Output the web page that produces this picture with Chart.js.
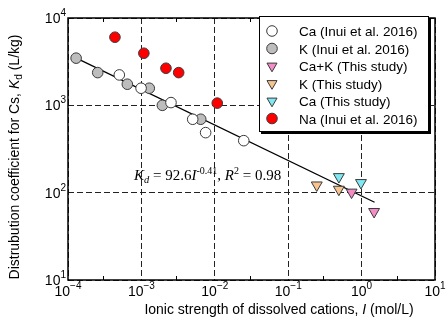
<!DOCTYPE html>
<html><head><meta charset="utf-8">
<script src="https://cdn.jsdelivr.net/npm/chart.js@4/dist/chart.umd.min.js"></script>
<style>html,body{margin:0;padding:0;background:#fff;}canvas{display:block;}</style>
</head><body>
<canvas id="c" width="447" height="331"></canvas>
<script>
// ---- data ----
const caInuiI  = [5.0e-4, 9.9e-4, 2.53e-3, 5.0e-3, 7.5e-3, 2.48e-2];
const caInuiKd = [2230, 1570, 1075, 693, 487, 394];
const kInuiI   = [1.29e-4, 2.54e-4, 6.43e-4, 1.28e-3, 1.93e-3, 6.43e-3];
const kInuiKd  = [3470, 2370, 1745, 1570, 1000, 693];
const cakI     = [0.73, 1.48];
const cakKd    = [101, 60.6];
const kThisI   = [0.245, 0.49];
const kThisKd  = [122, 109];
const caThisI  = [0.49, 0.98];
const caThisKd = [152, 130];
const naInuiI  = [4.36e-4, 1.08e-3, 2.16e-3, 3.22e-3, 1.08e-2];
const naInuiKd = [6030, 3950, 2660, 2370, 1060];
const fitI     = [1.3e-4, 1.5];
const fitKd    = [3470, 77.6];
const xTickExp = [-4, -3, -2, -1, 0, 1];
const yTickExp = [1, 2, 3, 4];
const xMinorTicks = [3e-4, 3e-3, 3e-2, 3e-1, 3];

const pts = (xs, ys) => xs.map((x, i) => ({x, y: ys[i]}));
const EDGE = '#3a3a3a';
function circleDs(label, xs, ys, fill) {
  return {label, data: pts(xs, ys), pointStyle: 'circle', pointRadius: 5.3,
    backgroundColor: fill, borderColor: EDGE, borderWidth: 1, showLine: false};
}
function triDs(label, xs, ys, fill) {
  return {label, data: pts(xs, ys), pointStyle: 'triangle', rotation: 180, pointRadius: 6.3,
    backgroundColor: fill, borderColor: EDGE, borderWidth: 1, showLine: false};
}
const datasets = [
  circleDs('Ca (Inui et al. 2016)', caInuiI, caInuiKd, '#ffffff'),
  circleDs('K (Inui et al. 2016)', kInuiI, kInuiKd, '#bdbdbd'),
  triDs('Ca+K (This study)', cakI, cakKd, '#f48cc8'),
  triDs('K (This study)', kThisI, kThisKd, '#f7c38e'),
  triDs('Ca (This study)', caThisI, caThisKd, '#80e8f2'),
  circleDs('Na (Inui et al. 2016)', naInuiI, naInuiKd, '#ff0000'),
  {label: 'fit', data: pts(fitI, fitKd), showLine: true, pointRadius: 0, borderColor: '#000',
   borderWidth: 1.3, order: 10, fill: false}
];

const SANS = '"Liberation Sans", Arial, sans-serif';
const SERIF = '"Liberation Serif", "Times New Roman", serif';

function richWidth(ctx, segs) {
  let w = 0;
  for (const s of segs) { ctx.font = (s.italic ? 'italic ' : '') + s.size + 'px ' + s.family; w += ctx.measureText(s.t).width; }
  return w;
}
function drawRich(ctx, segs, x, y) {
  for (const s of segs) {
    ctx.font = (s.italic ? 'italic ' : '') + s.size + 'px ' + s.family;
    ctx.fillText(s.t, x, y + (s.dy || 0));
    x += ctx.measureText(s.t).width;
  }
  return x;
}
function powSegs(exp) {
  const e = exp < 0 ? '\u2212' + (-exp) : String(exp);
  return [{t: '10', size: 14, family: SANS}, {t: e, size: 10, family: SANS, dy: -7}];
}

const decor = {
  id: 'decor',
  afterDatasetsDraw(chart) {
    const {ctx, chartArea: a, scales: {x, y}} = chart;
    ctx.save();
    ctx.fillStyle = '#000'; ctx.strokeStyle = '#000'; ctx.textBaseline = 'alphabetic'; ctx.textAlign = 'left';
    ctx.lineWidth = 1.5;
    ctx.strokeRect(a.left, a.top, a.right - a.left, a.bottom - a.top);
    ctx.lineWidth = 1;
    ctx.beginPath();
    for (const v of xMinorTicks) {
      const px = Math.round(x.getPixelForValue(v)) + 0.5;
      ctx.moveTo(px, a.bottom); ctx.lineTo(px, a.bottom - 4);
      ctx.moveTo(px, a.top); ctx.lineTo(px, a.top + 4);
    }
    ctx.stroke();
    for (const e of xTickExp) {
      const segs = powSegs(e);
      const w = richWidth(ctx, segs);
      drawRich(ctx, segs, x.getPixelForValue(Math.pow(10, e)) - w / 2, 296);
    }
    for (const e of yTickExp) {
      const segs = powSegs(e);
      const w = richWidth(ctx, segs);
      drawRich(ctx, segs, 66 - w, y.getPixelForValue(Math.pow(10, e)) + 5);
    }
    const xt = [{t: 'Ionic strength of dissolved cations, ', size: 14, family: SANS},
                {t: 'I', size: 14, family: SANS, italic: true},
                {t: ' (mol/L)', size: 14, family: SANS}];
    drawRich(ctx, xt, 279 - richWidth(ctx, xt) / 2, 314);
    const yt = [{t: 'Distrubution coefficient for Cs, ', size: 14, family: SANS},
                {t: 'K', size: 14, family: SANS, italic: true},
                {t: 'd', size: 10, family: SANS, dy: 3},
                {t: ' (L/kg)', size: 14, family: SANS}];
    ctx.save();
    ctx.translate(19, 157); ctx.rotate(-Math.PI / 2);
    drawRich(ctx, yt, -richWidth(ctx, yt) / 2, 0);
    ctx.restore();
    const an = [{t: 'K', size: 15, family: SERIF, italic: true},
                {t: 'd', size: 10.5, family: SERIF, italic: true, dy: 3},
                {t: ' = 92.6', size: 15, family: SERIF},
                {t: 'I', size: 15, family: SERIF, italic: true},
                {t: '-0.41', size: 10, family: SERIF, dy: -6},
                {t: ', ', size: 15, family: SERIF},
                {t: 'R', size: 15, family: SERIF, italic: true},
                {t: '2', size: 10, family: SERIF, dy: -6},
                {t: ' = 0.98', size: 15, family: SERIF}];
    drawRich(ctx, an, 134, 180);
    const L = {x: 259, y: 16, w: 170, h: 116};
    ctx.fillStyle = '#000';
    ctx.fillRect(L.x + 2, L.y + 2, L.w, L.h);
    ctx.fillStyle = '#fff';
    ctx.fillRect(L.x, L.y, L.w, L.h);
    ctx.lineWidth = 1;
    ctx.strokeStyle = '#000';
    ctx.strokeRect(L.x + 0.5, L.y + 0.5, L.w - 1, L.h - 1);
    const legendDs = datasets.filter(d => d.label !== 'fit');
    legendDs.forEach((d, i) => {
      const cy = 31 + i * 17.5;
      ctx.save();
      ctx.fillStyle = d.backgroundColor; ctx.strokeStyle = d.borderColor; ctx.lineWidth = 1;
      Chart.helpers.drawPoint(ctx, {pointStyle: d.pointStyle, rotation: d.rotation || 0,
        radius: d.pointStyle === 'triangle' ? 5.8 : 5.3, borderWidth: 1}, 272, cy);
      ctx.restore();
      ctx.fillStyle = '#000';
      ctx.font = '13.5px ' + SANS;
      ctx.fillText(d.label, 299, cy + 5);
    });
    ctx.restore();
  }
};

new Chart(document.getElementById('c'), {
  type: 'scatter',
  data: {datasets},
  options: {
    responsive: false, animation: false, devicePixelRatio: 1,
    layout: {padding: {top: 18, right: 12, left: 0, bottom: 0}},
    plugins: {legend: {display: false}, tooltip: {enabled: false}},
    scales: {
      x: {type: 'logarithmic', min: 1e-4, max: 10,
          afterBuildTicks: s => { s.ticks = xTickExp.map(e => ({value: Math.pow(10, e)})); },
          afterFit: s => { s.height = 51; },
          ticks: {display: false},
          grid: {color: '#222', lineWidth: 1, drawTicks: false},
          border: {display: false, dash: [6, 3]}},
      y: {type: 'logarithmic', min: 10, max: 1e4,
          afterBuildTicks: s => { s.ticks = yTickExp.map(e => ({value: Math.pow(10, e)})); },
          afterFit: s => { s.width = 68; },
          ticks: {display: false},
          grid: {color: '#222', lineWidth: 1, drawTicks: false},
          border: {display: false, dash: [6, 3]}}
    }
  },
  plugins: [decor]
});
</script>
</body></html>
